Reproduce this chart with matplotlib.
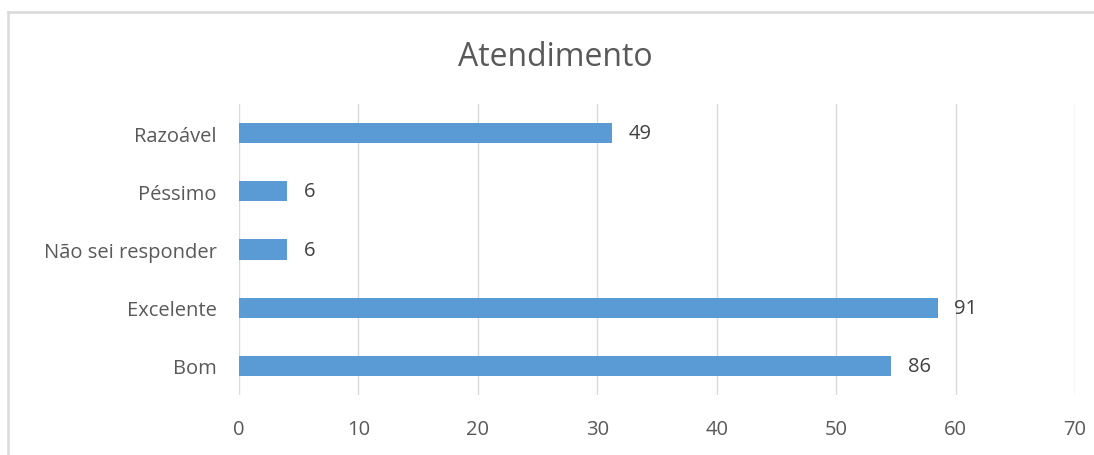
import matplotlib
matplotlib.use("Agg")
import matplotlib.pyplot as plt
from matplotlib.lines import Line2D

categories = ["Bom", "Excelente", "Não sei responder", "Péssimo", "Razoável"]
bar_lengths = [54.6, 58.5, 4.0, 4.0, 31.2]   # as drawn against the axis
label_values = [86, 91, 6, 6, 49]             # numbers printed beside bars
x_ticks = [0, 10, 20, 30, 40, 50, 60, 70]
title = "Atendimento"

plt.rcParams['font.family'] = ['Open Sans', 'DejaVu Sans']

fig = plt.figure(figsize=(10.94, 4.56), dpi=100)
bx, by = 7.5/1094, 1 - 12.5/456
fig.add_artist(Line2D([bx, 1.1], [by, by], transform=fig.transFigure,
                      color="#d9d9d9", linewidth=1.8))
fig.add_artist(Line2D([bx, bx], [-0.1, by], transform=fig.transFigure,
                      color="#d9d9d9", linewidth=1.8))
ax = fig.add_axes([239/1094, 1 - 396/456, (1075 - 239)/1094, (396 - 105)/456])

y = list(range(len(categories)))
ax.barh(y, bar_lengths, height=0.345, color="#5b9bd5", zorder=3)
for yi, length, lab in zip(y, bar_lengths, label_values):
    ax.annotate(str(lab), (length, yi), xytext=(12, 0), textcoords="offset points",
                va="center", ha="left", fontsize=14.5, color="#404040")

ax.set_xlim(0, 70)
ax.set_ylim(-0.5, 4.5)
ax.set_xticks(x_ticks)
ax.set_yticks(y)
ax.set_yticklabels(categories)
ax.grid(axis="x", color="#d9d9d9", linewidth=1, zorder=0)
for s in ax.spines.values():
    s.set_visible(False)
ax.tick_params(axis="both", length=0, labelsize=14.5, labelcolor="#595959")
ax.tick_params(axis="x", pad=17)
ax.tick_params(axis="y", pad=16)

fig.text(555/1094, 1 - 58/456, title, ha="center", va="center",
         fontsize=23, color="#595959")

fig.savefig("out.png", dpi=100)
